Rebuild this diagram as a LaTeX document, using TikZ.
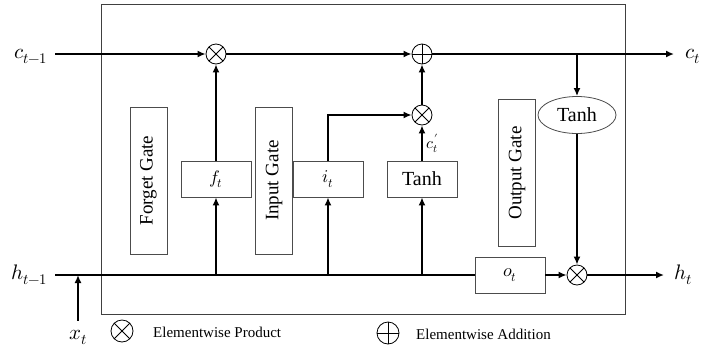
\documentclass[tikz,border=0pt]{standalone}
\usepackage{fontspec}
\usepackage{unicode-math}
\setmainfont{Liberation Serif}
\setmathfont{Latin Modern Math}
\usetikzlibrary{arrows.meta,shapes.geometric,calc}
\begin{document}
\begin{tikzpicture}[x=1pt,y=-1pt,
  line/.style={line width=1.6pt},
  arr/.style={line width=1.6pt,-{Latex[length=8pt,width=7pt]}},
  box/.style={draw=black!70,line width=0.8pt,rectangle,inner sep=0pt},
  gate/.style={box,rotate=90,minimum width=147pt,minimum height=37pt,font=\fontsize{19}{19}\selectfont},
  val/.style={box,minimum width=70pt,minimum height=36pt,font=\fontsize{18}{18}\selectfont},
  opnode/.style={circle,draw,line width=0.8pt,minimum size=20pt,inner sep=0pt},
  mult/.style={opnode,path picture={\draw[line width=0.8pt] (path picture bounding box.north west) -- (path picture bounding box.south east) (path picture bounding box.north east) -- (path picture bounding box.south west);}},
  add/.style={opnode,path picture={\draw[line width=0.8pt] (path picture bounding box.north) -- (path picture bounding box.south) (path picture bounding box.west) -- (path picture bounding box.east);}},
  lbl/.style={inner sep=0pt,font=\fontsize{21}{21}\selectfont},
  legtext/.style={inner sep=0pt,anchor=west,font=\fontsize{15}{15}\selectfont},
]
\useasboundingbox (0,0) rectangle (702,349);
\node[draw=black!75,line width=1pt,minimum width=524pt,minimum height=310pt,inner sep=0pt] (cell) at (363,159) {};

\node[mult] (m1) at (216,54) {};
\node[add] (a1) at (422,54) {};
\node[mult] (m2) at (422,115) {};
\node[mult] (m3) at (577,275) {};

\node[gate] (fg) at (148.5,180.5) {Forget Gate};
\node[gate] (ig) at (274,180.5) {Input Gate};
\node[gate] (og) at (517,173) {Output Gate};

\node[val] (ft) at (216,179) {$f_t$};
\node[val] (it) at (328,179) {$i_t$};
\node[val,font=\fontsize{20}{20}\selectfont] (tb) at (422,179) {Tanh};
\node[val] (ot) at (510,275) {$o_t$};
\node[ellipse,draw=black!70,line width=0.8pt,minimum width=78pt,minimum height=37pt,inner sep=0pt,font=\fontsize{20}{20}\selectfont] (te) at (577,115) {Tanh};

\node[lbl,anchor=base east] (cp) at (48,58) {$c_{t-1}$};
\node[lbl,anchor=base east] (hp) at (48,279) {$h_{t-1}$};
\node[lbl,anchor=base west] (cn) at (685,58) {$c_t$};
\node[lbl,anchor=base west] (hn) at (674,279) {$h_t$};
\node[lbl,anchor=base] (xt) at (78,339) {$x_t$};

% cell state line
\draw[arr] ($(cp.east |- m1)+(7,0)$) -- (m1);
\draw[arr] (m1) -- (a1);
\draw[arr] (a1) -- ($(cn.west |- a1)+(-11,0)$);
\draw[arr] (te.north |- a1) -- (te.north);
\draw[arr] (te) -- (m3);

% gates
\draw[arr] (ft) -- (m1);
\draw[arr] (it.north) |- (m2);
\draw[arr] (tb) -- (m2) node[midway,right=4pt,inner sep=0pt,font=\fontsize{16}{16}\selectfont] (cpt) {$c'_t$};
\draw[arr] (m2) -- (a1);

% hidden line
\draw[line] ($(hp.east |- m3)+(7,0)$) -- (ot.west);
\draw[arr] (ft.south |- m3) -- (ft.south);
\draw[arr] (it.south |- m3) -- (it.south);
\draw[arr] (tb.south |- m3) -- (tb.south);
\draw[arr] (ot) -- (m3);
\draw[arr] (m3) -- ($(hn.west |- m3)+(-10,0)$);
\draw[arr] ($(xt.north)+(0,-9)$) -- (xt.north |- m3);

% legend
\node[mult,minimum size=22pt] (lm) at (122,331) {};
\node[legtext] (lmt) at (153,332) {Elementwise Product};
\node[add,minimum size=22pt] (la) at (388,333) {};
\node[legtext] (lat) at (416,334) {Elementwise Addition};
\end{tikzpicture}
\end{document}
